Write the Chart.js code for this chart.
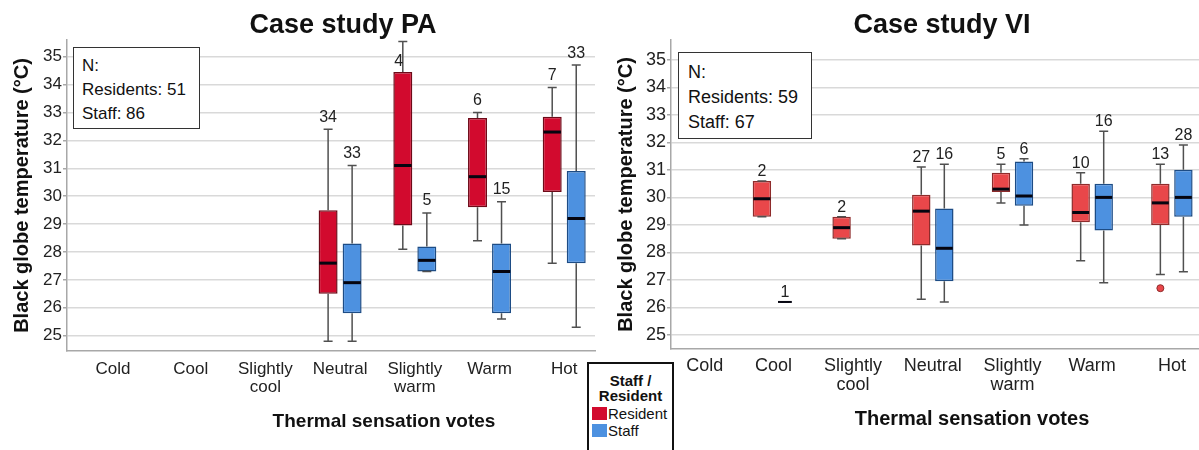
<!DOCTYPE html>
<html><head><meta charset="utf-8">
<script src="https://cdn.jsdelivr.net/npm/chart.js@4.4.0/dist/chart.umd.min.js"></script>
<style>
html,body{margin:0;padding:0;background:#fff;}
body{width:1199px;height:450px;overflow:hidden;position:relative;font-family:"Liberation Sans",Arial,sans-serif;color:#111;}
#c1{position:absolute;left:0;top:0;}
#wrap2{position:absolute;left:600px;top:0;width:599px;height:450px;overflow:hidden;}
#c2{position:absolute;left:0;top:0;}
.title{position:absolute;top:4px;font-weight:bold;font-size:27px;line-height:40px;white-space:nowrap;transform:translateX(-50%);}
.xtitle{position:absolute;font-weight:bold;white-space:nowrap;transform:translateX(-50%);line-height:24px;}
.nbox{position:absolute;box-sizing:border-box;border:1.5px solid #333;background:#fff;white-space:nowrap;color:#111;}
.legend{position:absolute;left:587px;top:362px;width:87px;height:110px;box-sizing:border-box;border:2px solid #111;background:#fff;}
.legend .lt{font-weight:bold;font-size:15px;line-height:15px;text-align:center;padding-top:9px;}
.legend .row{display:flex;align-items:center;height:13px;margin-top:4px;padding-left:3px;font-size:15px;}
.legend .row:first-of-type{margin-top:6px;}
.legend .sw{width:15px;height:13px;margin-right:1px;}
</style>
</head>
<body>
<canvas id="c1" width="600" height="450"></canvas>
<div id="wrap2"><canvas id="c2" width="615" height="450"></canvas></div>

<div class="title" style="left:343px;">Case study PA</div>
<div class="title" style="left:942px;">Case study VI</div>
<div class="xtitle" style="left:384px;top:409px;font-size:19px;">Thermal sensation votes</div>
<div class="xtitle" style="left:972px;top:406px;font-size:20px;">Thermal sensation votes</div>

<div class="nbox" style="left:73px;top:47px;width:127px;height:82px;padding:6px 0 0 8px;font-size:17px;line-height:24px;">N:<br>Residents: 51<br>Staff: 86</div>
<div class="nbox" style="left:678px;top:52px;width:134px;height:87px;padding:7px 0 0 9px;font-size:18px;line-height:25px;">N:<br>Residents: 59<br>Staff: 67</div>

<div class="legend">
  <div class="lt">Staff /<br>Resident</div>
  <div class="row"><div class="sw" style="background:#D20A2E"></div>Resident</div>
  <div class="row"><div class="sw" style="background:#4D91E0"></div>Staff</div>
</div>

<script>
// ---------- DATA ----------
const categories = ['Cold', 'Cool', 'Slightly cool', 'Neutral', 'Slightly warm', 'Warm', 'Hot'];
const tickLabels = [['Cold'], ['Cool'], ['Slightly', 'cool'], ['Neutral'], ['Slightly', 'warm'], ['Warm'], ['Hot']];
const yTicks = [25, 26, 27, 28, 29, 30, 31, 32, 33, 34, 35];
const seriesNames = ['Resident', 'Staff'];

// each entry: [min, q1, median, q3, max]
const paResident = [null, null, null, [24.8, 26.5, 27.6, 29.5, 32.4], [28.1, 28.95, 31.1, 34.45, 35.55], [28.4, 29.6, 30.7, 32.8, 33.0], [27.6, 30.15, 32.3, 32.85, 33.9]];
const paResidentN = [null, null, null, 34, 4, 6, 7];
const paStaff = [null, null, null, [24.8, 25.8, 26.9, 28.3, 31.1], [27.3, 27.3, 27.7, 28.2, 29.4], [25.6, 25.8, 27.3, 28.3, 29.8], [25.3, 27.6, 29.2, 30.9, 34.7]];
const paStaffN = [null, null, null, 33, 5, 15, 33];

const viResident = [null, [29.3, 29.3, 29.95, 30.6, 30.6], [28.5, 28.5, 28.9, 29.3, 29.3], [26.3, 28.25, 29.5, 30.1, 31.1], [29.8, 30.2, 30.3, 30.9, 31.2], [27.7, 29.1, 29.45, 30.5, 30.9], [27.2, 29.0, 29.8, 30.5, 31.2]];
const viResidentN = [null, 2, 2, 27, 5, 10, 13];
const viResidentOutliers = [[], [], [], [], [], [], [26.7]];
const viStaff = [null, [26.2, 26.2, 26.2, 26.2, 26.2], null, [26.2, 26.95, 28.15, 29.6, 31.2], [29.0, 29.7, 30.05, 31.3, 31.4], [26.9, 28.8, 30.0, 30.5, 32.4], [27.3, 29.3, 30.0, 31.0, 31.9]];
const viStaffN = [null, 1, null, 16, 6, 16, 28];
const noOutliers = [[], [], [], [], [], [], []];

// ---------- HELPERS ----------
const FONT = '"Liberation Sans", Arial, sans-serif';

function boxData(stats, ns, outs) {
  const out = [];
  stats.forEach((s, i) => {
    if (s) out.push({ x: i, y: [s[1], s[3]], s: s, n: ns[i], out: outs[i] || [] });
  });
  return out;
}

const boxDeco = {
  id: 'boxDeco',
  afterDatasetsDraw(chart, args, o) {
    const ctx = chart.ctx, ys = chart.scales.y, area = chart.chartArea;
    const labels = [];
    ctx.save();
    chart.data.datasets.forEach((ds, di) => {
      const meta = chart.getDatasetMeta(di);
      meta.data.forEach((el, j) => {
        const d = ds.data[j], s = d.s;
        const x = el.x, w = el.width;
        const p = s.map(v => ys.getPixelForValue(v));
        // whiskers
        ctx.strokeStyle = o.whisker; ctx.lineWidth = 1.5; ctx.lineCap = 'butt';
        ctx.beginPath();
        ctx.moveTo(x, p[3]); ctx.lineTo(x, p[4]);
        ctx.moveTo(x, p[1]); ctx.lineTo(x, p[0]);
        const cw = o.cap / 2;
        ctx.moveTo(x - cw, p[4]); ctx.lineTo(x + cw, p[4]);
        ctx.moveTo(x - cw, p[0]); ctx.lineTo(x + cw, p[0]);
        ctx.stroke();
        // median
        const single = d.n === 1;
        const mw = single ? w * 0.75 : w - 1.5;
        ctx.strokeStyle = '#050510'; ctx.lineWidth = single ? 2 : 3;
        ctx.beginPath();
        ctx.moveTo(x - mw / 2, p[2]); ctx.lineTo(x + mw / 2, p[2]);
        ctx.stroke();
        // outliers
        d.out.forEach(v => {
          ctx.beginPath();
          ctx.arc(x, ys.getPixelForValue(v), 3.5, 0, Math.PI * 2);
          ctx.fillStyle = ds.backgroundColor; ctx.fill();
          ctx.lineWidth = 1; ctx.strokeStyle = ds.borderColor; ctx.stroke();
        });
        // count label
        let ly = p[4] - o.labelOff, lx = x;
        if (ly < area.top + 8) { ly = p[3] - 10; lx = x - 4; }
        labels.push([String(d.n), lx, ly]);
      });
    });
    ctx.font = o.labelSize + 'px ' + FONT;
    ctx.fillStyle = '#222'; ctx.textAlign = 'center'; ctx.textBaseline = 'middle';
    labels.forEach(l => ctx.fillText(l[0], l[1], l[2]));
    ctx.restore();
  }
};

function makeChart(id, c) {
  return new Chart(document.getElementById(id), {
    type: 'bar',
    data: {
      datasets: [
        { label: seriesNames[0], data: boxData(c.res, c.resN, c.resOut), backgroundColor: c.red, borderColor: c.redBorder, borderWidth: 1.5, borderSkipped: false },
        { label: seriesNames[1], data: boxData(c.staff, c.staffN, c.staffOut), backgroundColor: c.blue, borderColor: c.blueBorder, borderWidth: 1.5, borderSkipped: false }
      ]
    },
    options: {
      responsive: false, animation: false, devicePixelRatio: 1,
      events: [],
      layout: { padding: { top: 40, left: 0, right: c.padRight, bottom: 0 } },
      datasets: { bar: { categoryPercentage: c.cp, barPercentage: c.bp, grouped: true } },
      plugins: {
        legend: { display: false }, tooltip: { enabled: false },
        boxDeco: { whisker: '#505050', cap: 9, labelOff: c.labelOff, labelSize: 16 }
      },
      scales: {
        x: {
          type: 'linear', min: c.xmin, max: c.xmax, offset: false,
          grid: { display: false, drawTicks: false },
          border: { display: true, color: '#a8a8a8', width: 1.5 },
          afterBuildTicks: s => { s.ticks = categories.map((cat, i) => ({ value: i + (i === 0 ? c.firstTickShift : 0) })); },
          ticks: { autoSkip: false, maxRotation: 0, padding: c.xPad, color: '#222',
            font: { family: FONT, size: c.tickSize, lineHeight: 1.05 },
            callback: v => tickLabels[Math.round(v)] },
          afterFit: s => { s.height = c.xHeight; }
        },
        y: {
          min: c.ymin, max: c.ymax,
          grid: { color: '#d9d9d9', lineWidth: 1.5, drawTicks: true, tickLength: 4, tickColor: '#a8a8a8' },
          border: { display: true, color: '#a8a8a8', width: 1.5 },
          afterBuildTicks: s => { s.ticks = yTicks.map(v => ({ value: v })); },
          ticks: { padding: 1, color: '#222', font: { family: FONT, size: c.tickSize } },
          title: { display: true, text: 'Black globe temperature (°C)', color: '#111',
            font: { family: FONT, size: 20, weight: 'bold' }, padding: { top: c.yTitlePad, bottom: 0 } },
          afterFit: s => { s.width = c.yWidth; }
        }
      }
    },
    plugins: [boxDeco]
  });
}

makeChart('c1', {
  res: paResident, resN: paResidentN, resOut: noOutliers,
  staff: paStaff, staffN: paStaffN, staffOut: noOutliers,
  red: '#D20A2E', redBorder: '#6e0a18', blue: '#4D91E0', blueBorder: '#1d4c85',
  xmin: -0.656, xmax: 6.412, ymin: 24.45, ymax: 35.6,
  cp: 0.643, bp: 0.79, padRight: 5, yWidth: 67, xHeight: 99, xPad: 9.5,
  tickSize: 17, yTitlePad: 10, labelOff: 12, firstTickShift: -0.04
});

makeChart('c2', {
  res: viResident, resN: viResidentN, resOut: viResidentOutliers,
  staff: viStaff, staffN: viStaffN, staffOut: noOutliers,
  red: '#E9474A', redBorder: '#8e2b2b', blue: '#4D91E0', blueBorder: '#1d4c85',
  xmin: -0.285, xmax: 6.541, ymin: 24.49, ymax: 35.72,
  cp: 0.672, bp: 0.80, padRight: 0, yWidth: 71, xHeight: 101, xPad: 7.5,
  tickSize: 18, yTitlePad: 14, labelOff: 9.5, firstTickShift: 0.14
});
</script>
</body></html>
